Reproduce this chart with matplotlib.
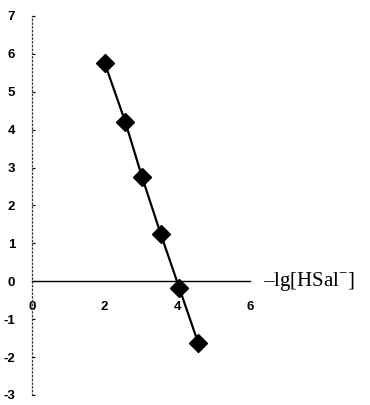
import matplotlib
matplotlib.use("Agg")
import matplotlib.pyplot as plt

# -lg[HSal-] vs response
lg_hsal = [2.0, 2.57, 3.03, 3.54, 4.06, 4.58]
values = [5.76, 4.20, 2.75, 1.26, -0.19, -1.64]

x_ticks = [0, 2, 4, 6]
y_ticks = [-3, -2, -1, 0, 1, 2, 3, 4, 5, 6, 7]

plt.rcParams["axes.unicode_minus"] = False
plt.rcParams["font.family"] = ["Liberation Sans", "DejaVu Sans"]
plt.rcParams["mathtext.fontset"] = "custom"
plt.rcParams["mathtext.rm"] = "Liberation Serif"

fig = plt.figure(figsize=(3.7, 4.05), dpi=100)
ax = fig.add_axes([0.0865, 0.0247, 0.589, 0.936])

ax.plot(lg_hsal, values, color="black", lw=1.6, marker="D",
        markersize=9.5, markerfacecolor="black", markeredgecolor="black")

ax.set_xlim(0, 6)
ax.set_ylim(-3, 7)

ax.spines["top"].set_visible(False)
ax.spines["right"].set_visible(False)
ax.spines["bottom"].set_position(("data", 0))
ax.spines["bottom"].set_linewidth(1.0)
ax.spines["left"].set_linestyle((0, (1, 2)))
ax.spines["left"].set_linewidth(0.9)
ax.spines["left"].set_color("#333333")

ax.set_xticks(x_ticks)
ax.set_yticks(y_ticks)
ax.tick_params(axis="x", length=0, pad=14, labelsize=9.5)
ax.tick_params(axis="y", direction="in", length=2, width=0.8, pad=12, labelsize=9.5)
for lab in ax.get_xticklabels() + ax.get_yticklabels():
    lab.set_fontweight("bold")

ax.text(6.35, 0, "\u2013lg[HSal$^{\\mathrm{-}}$]", ha="left", va="center", fontsize=15,
        family=["Liberation Serif", "DejaVu Serif"])

fig.savefig("out.png", dpi=100)
